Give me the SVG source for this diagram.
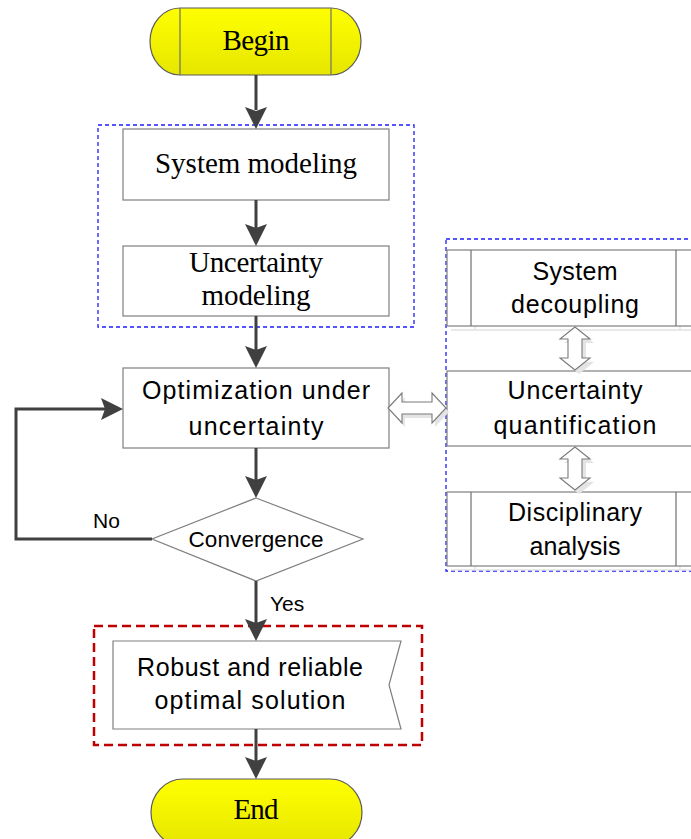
<svg xmlns="http://www.w3.org/2000/svg" width="691" height="839" viewBox="0 0 691 839">
<defs>
<linearGradient id="yel" x1="0" y1="0" x2="0" y2="1">
<stop offset="0" stop-color="#ffff00"/>
<stop offset="1" stop-color="#e6e600"/>
</linearGradient>
<style>
.term{fill:url(#yel);stroke:#5a5a5a;stroke-width:1.2}
.box{fill:#ffffff;stroke:#7f7f7f;stroke-width:1.2}
.inner{stroke:#6f6f6f;stroke-width:1.2;fill:none}
.shadowline{stroke:#e2e2e2;stroke-width:1.5;fill:none}
.serif{font-family:"Liberation Serif","Times New Roman",serif;font-size:29px;fill:#000;text-anchor:middle}
.sans{font-family:"Liberation Sans",Arial,sans-serif;font-size:25px;fill:#000;text-anchor:middle}
.sans21{font-family:"Liberation Sans",Arial,sans-serif;font-size:22.5px;fill:#000;text-anchor:middle}
.lbl{font-family:"Liberation Sans",Arial,sans-serif;font-size:21px;fill:#000}
.conn{stroke:#404040;stroke-width:3;fill:none}
.head{fill:#404040;stroke:none}
.dbl{fill:#ffffff;stroke:#7a7a7a;stroke-width:1.1}
.dblsh{fill:#e4e4e4;stroke:none}
.blue{fill:none;stroke:#1e1eff;stroke-width:1.3;stroke-dasharray:4,3}
.red{fill:none;stroke:#c00000;stroke-width:2.5;stroke-dasharray:9,5}
</style>
</defs>
<rect width="691" height="839" fill="#ffffff"/>

<g id="container-modeling"><rect class="blue" x="98" y="125" width="316" height="202"/></g>
<g id="container-uq"><rect class="blue" x="446" y="239" width="262" height="332"/></g>
<g id="container-solution"><rect class="red" x="94" y="626" width="328" height="119"/></g>

<g id="begin">
<path class="term" d="M180,8 H331 A30,33.5 0 0 1 331,75 H180 A30,33.5 0 0 1 180,8 Z"/>
<line class="inner" x1="180" y1="8" x2="180" y2="75"/>
<line class="inner" x1="331" y1="8" x2="331" y2="75"/>
<text class="serif" x="256" y="50" textLength="67">Begin</text>
</g>

<g id="system-modeling">
<rect class="box" x="123" y="129" width="266" height="71"/>
<text class="serif" x="256" y="173" textLength="202">System modeling</text>
</g>

<g id="uncertainty-modeling">
<rect class="box" x="123" y="246" width="266" height="70"/>
<text class="serif" x="256" y="272" textLength="134">Uncertainty</text>
<text class="serif" x="256" y="305" textLength="109">modeling</text>
</g>

<g id="optimization">
<rect class="box" x="123" y="368" width="266" height="80"/>
<text class="sans" x="256" y="399" textLength="228">Optimization under</text>
<text class="sans" x="256" y="435" textLength="135">uncertainty</text>
</g>

<g id="convergence">
<polygon class="box" points="256,498 363,539 256,581 152,539"/>
<text class="sans21" x="256" y="547" textLength="135">Convergence</text>
</g>

<g id="solution">
<polygon class="box" points="113,641 401,641 389,685 401,729 113,729"/>
<text class="sans" x="250" y="676" textLength="226">Robust and reliable</text>
<text class="sans" x="250" y="709" textLength="191">optimal solution</text>
</g>

<g id="end">
<path class="term" d="M183,779 H330 A32,33.5 0 0 1 330,846 H183 A32,33.5 0 0 1 183,779 Z"/>
<text class="serif" x="256" y="819" textLength="45">End</text>
</g>

<g id="system-decoupling">
<line class="shadowline" x1="451" y1="330" x2="704" y2="330"/>
<line class="shadowline" x1="475" y1="254" x2="475" y2="330"/>
<line class="shadowline" x1="680" y1="254" x2="680" y2="330"/>
<rect class="box" x="447" y="250" width="260" height="76"/>
<line class="inner" x1="471" y1="250" x2="471" y2="326"/>
<line class="inner" x1="676" y1="250" x2="676" y2="326"/>
<text class="sans" x="575" y="280" textLength="85">System</text>
<text class="sans" x="575" y="313" textLength="128">decoupling</text>
</g>

<g id="uncertainty-quantification">
<rect class="box" x="447" y="371" width="260" height="75"/>
<text class="sans" x="575" y="399" textLength="135">Uncertainty</text>
<text class="sans" x="575" y="434" textLength="163">quantification</text>
</g>

<g id="disciplinary-analysis">
<line class="shadowline" x1="451" y1="570" x2="704" y2="570"/>
<line class="shadowline" x1="475" y1="496" x2="475" y2="570"/>
<line class="shadowline" x1="680" y1="496" x2="680" y2="570"/>
<rect class="box" x="447" y="492" width="260" height="74"/>
<line class="inner" x1="471" y1="492" x2="471" y2="566"/>
<line class="inner" x1="676" y1="492" x2="676" y2="566"/>
<text class="sans" x="575" y="521" textLength="134">Disciplinary</text>
<text class="sans" x="575" y="555" textLength="91">analysis</text>
</g>

<g id="connectors">
<line class="conn" x1="256" y1="75" x2="256" y2="110"/>
<polygon class="head" points="256,129 245,107 256,111 267,107"/>
<line class="conn" x1="256" y1="200" x2="256" y2="228"/>
<polygon class="head" points="256,246 245,224 256,228 267,224"/>
<line class="conn" x1="256" y1="316" x2="256" y2="350"/>
<polygon class="head" points="256,368 245,346 256,350 267,346"/>
<line class="conn" x1="256" y1="448" x2="256" y2="480"/>
<polygon class="head" points="256,498 245,476 256,480 267,476"/>
<polyline class="conn" points="152,539 16,539 16,409 105,409"/>
<polygon class="head" points="123,409 101,398 105,409 101,420"/>
<line class="conn" x1="256" y1="581" x2="256" y2="623"/>
<polygon class="head" points="256,641 245,619 256,623 267,619"/>
<line class="conn" x1="256" y1="729" x2="256" y2="761"/>
<polygon class="head" points="256,779 245,757 256,761 267,757"/>
<text class="lbl" x="93" y="528">No</text>
<text class="lbl" x="270" y="611">Yes</text>

<polygon class="dblsh" transform="translate(4,4)" points="575,327 590,339 582,339 582,358 590,358 575,370 560,358 568,358 568,339 560,339"/>
<polygon class="dbl" points="575,327 590,339 582,339 582,358 590,358 575,370 560,358 568,358 568,339 560,339"/>
<polygon class="dblsh" transform="translate(4,4)" points="575,447 590,459 582,459 582,478 590,478 575,490 560,478 568,478 568,459 560,459"/>
<polygon class="dbl" points="575,447 590,459 582,459 582,478 590,478 575,490 560,478 568,478 568,459 560,459"/>
<polygon class="dblsh" transform="translate(3,4)" points="388,408 402,393 402,402 432,402 432,393 446,408 432,423 432,414 402,414 402,423"/>
<polygon class="dbl" points="388,408 402,393 402,402 432,402 432,393 446,408 432,423 432,414 402,414 402,423"/>
</g>
</svg>
